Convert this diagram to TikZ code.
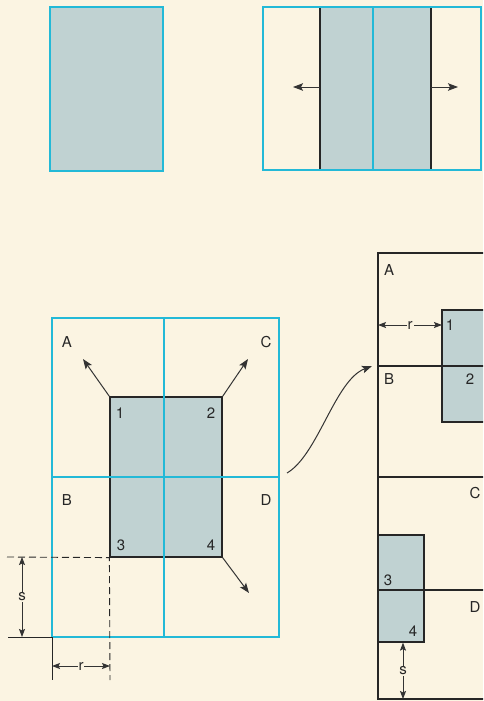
\documentclass[tikz,border=0pt]{standalone}
\usepackage{fontspec}
\setmainfont{TeX Gyre Heros}
\usetikzlibrary{arrows.meta,positioning}
\definecolor{paper}{RGB}{251,244,226}
\definecolor{gridblue}{RGB}{35,185,215}
\definecolor{cardgrey}{RGB}{192,210,210}
\tikzset{
  gridline/.style={gridblue, line width=2.6pt},
  cut/.style={black!85, line width=1.2pt},
  card/.style={draw=black!85, line width=1.2pt, fill=cardgrey, inner sep=0pt},
  sheet/.style={draw=gridblue, line width=2.6pt, fill=cardgrey, inner sep=0pt},
  lab/.style={font=\fontsize{15}{17}\selectfont, text=black!85, inner sep=1pt},
  push/.style={-{Stealth[length=10pt,width=7.5pt,inset=2pt]}, black!80, line width=1pt},
  dim/.style={{Stealth[length=8pt,width=6pt,inset=1.5pt]}-{Stealth[length=8pt,width=6pt,inset=1.5pt]}, black!80, line width=0.9pt},
  guide/.style={black!85, line width=0.9pt, dash pattern=on 7pt off 4pt},
}

\begin{document}
\begin{tikzpicture}[x=1pt,y=-1pt]
  \fill[paper] (0,0) rectangle (483,701);
  \clip (0,0) rectangle (483,701);

  % one card
  \node[sheet, minimum width=113, minimum height=164] (single) at (106.5,89) {};

  % card split and pushed apart
  \fill[cardgrey] (320,7) rectangle (431,170);
  \draw[cut] (320,7) -- (320,170) (431,7) -- (431,170);
  \draw[gridline] (263,7) rectangle (481,170);
  \draw[gridline] (373,7) -- (373,170);
  \coordinate (leftedge) at (320,87);
  \coordinate (leftpush) at (293,87);
  \coordinate (rightedge) at (431,87);
  \coordinate (rightpush) at (458,87);
  \draw[push] (leftedge) -- (leftpush);
  \draw[push] (rightedge) -- (rightpush);

  % four quadrants
  \node[card, minimum width=112, minimum height=160] (card) at (166,477) {};
  \draw[gridline] (52,318) rectangle (279,637);
  \draw[gridline] (164,318) -- (164,637) (52,477) -- (279,477);
  \node[lab] (qa) at (67,342) {A};
  \node[lab] (qc) at (266,342) {C};
  \node[lab] (qb) at (67,500) {B};
  \node[lab] (qd) at (266,500) {D};
  \node[lab] (cone) at (120,413) {1};
  \node[lab] (ctwo) at (211,413) {2};
  \node[lab] (cthree) at (121,545) {3};
  \node[lab] (cfour) at (211,545) {4};
  \coordinate (pusha) at (83,359);
  \coordinate (pushc) at (248,359);
  \coordinate (pushd) at (249,593);
  \draw[push] (card.north west) -- (pusha);
  \draw[push] (card.north east) -- (pushc);
  \draw[push] (card.south east) -- (pushd);

  % offsets r and s
  \draw[guide] (7,557) -- (card.south west) -- (110,680);
  \draw[black!85, line width=0.9pt] (8,637) -- (52,637) -- (52,680);
  \coordinate (stop) at (22,557);
  \coordinate (sbot) at (22,637);
  \coordinate (rleft) at (52,666);
  \coordinate (rright) at (110,666);
  \draw[dim] (stop) -- node[lab, fill=paper] (slab) {s} (sbot);
  \draw[dim] (rleft) -- node[lab, fill=paper] (rlab) {r} (rright);

  % result strip
  \fill[cardgrey] (442,310) rectangle (560,422);
  \draw[cut] (560,310) -- (442,310) -- (442,422) -- (560,422);
  \node[card, minimum width=46, minimum height=107] (cardlow) at (401,588.5) {};
  \draw[cut] (560,253) -- (378,253) -- (378,699) -- (560,699);
  \draw[cut] (378,366) -- (560,366) (378,477) -- (560,477) (378,590) -- (560,590);
  \node[lab] (ra) at (389,270) {A};
  \node[lab] (rb) at (389,379) {B};
  \node[lab] (rc) at (475,493) {C};
  \node[lab] (rd) at (475,607) {D};
  \node[lab] (rone) at (450,325) {1};
  \node[lab] (rtwo) at (470,379) {2};
  \node[lab] (rthree) at (388,580) {3};
  \node[lab] (rfour) at (413,631) {4};
  \coordinate (stripedge) at (378,325);
  \coordinate (stripcard) at (442,325);
  \coordinate (stripbot) at (403,699);
  \draw[dim] (stripedge) -- node[lab, fill=paper] (rlab2) {r} (stripcard);
  \draw[dim] (cardlow.south) ++(2,0) coordinate (lowcard) (lowcard) -- node[lab, fill=paper] (slab2) {s} (stripbot);

  % mapping arrow
  \coordinate (mapfrom) at (287,473);
  \coordinate (mapto) at (372,366);
  \draw[push] (mapfrom) .. controls (318,455) and (335,380) .. (mapto);
\end{tikzpicture}
\end{document}
